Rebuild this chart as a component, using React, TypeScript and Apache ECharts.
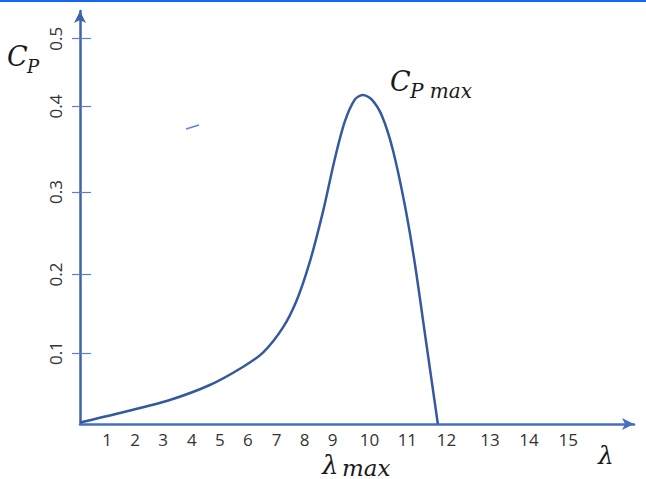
import React, { useEffect, useRef } from "react";
import * as echarts from "echarts";

// Tick labels and where they sit along each axis (axis units)
const xLabels = ["1", "2", "3", "4", "5", "6", "7", "8", "9", "10", "11", "12", "13", "14", "15"];
const xLabelPos = [0.97, 1.97, 2.97, 4.0, 5.0, 6.0, 7.03, 8.03, 9.03, 10.35, 11.7, 13.1, 14.65, 16.05, 17.45];
const yLabels = ["0.1", "0.2", "0.3", "0.4", "0.5"];
const yLabelPos = [0.092, 0.194, 0.301, 0.412, 0.5];

// Cp curve (axis units)
const lambdaVals = [0, 1.43, 3.21, 4.64, 5.82, 6.55, 7.25, 7.75, 8.21, 8.68, 9.1, 9.46, 9.82, 10.11, 10.43, 10.79, 11.18, 11.61, 11.96, 12.36, 12.79];
const cpVals = [0.002, 0.0143, 0.0312, 0.0506, 0.074, 0.093, 0.125, 0.161, 0.21, 0.275, 0.343, 0.392, 0.421, 0.427, 0.421, 0.4, 0.356, 0.284, 0.21, 0.109, 0];

const X_MAX = 19.8;
const Y_MAX = 0.536;

function nearestIndex(arr: number[], v: number) {
  let best = 0;
  let d = Infinity;
  arr.forEach((a, i) => {
    if (Math.abs(a - v) < d) {
      d = Math.abs(a - v);
      best = i;
    }
  });
  return best;
}

export default function App() {
  const ref = useRef<HTMLDivElement>(null);
  useEffect(() => {
    if (!ref.current) return;
    const chart = echarts.init(ref.current, null, { renderer: "svg" });
    const axisColor = "#3E63AD";
    const serif = "DejaVu Serif";
    chart.setOption({
      animation: false,
      backgroundColor: "#ffffff",
      grid: { left: 80, right: 12, top: 11, bottom: 55 },
      xAxis: {
        type: "value",
        min: 0,
        max: X_MAX,
        splitLine: { show: false },
        axisTick: { show: false },
        axisLine: {
          show: true,
          onZero: false,
          symbol: ["none", "arrow"],
          symbolSize: [9, 12],
          lineStyle: { color: "#4570BE", width: 2.5 },
        },
        axisLabel: {
          customValues: xLabelPos,
          margin: 7,
          fontFamily: "Open Sans",
          fontSize: 17,
          color: "#333333",
          formatter: (v: number) => xLabels[nearestIndex(xLabelPos, v)],
        },
      },
      yAxis: [
        {
          type: "value",
          min: 0,
          max: Y_MAX,
          splitLine: { show: false },
          axisLine: {
            show: true,
            onZero: false,
            symbol: ["none", "arrow"],
            symbolSize: [9, 12],
            lineStyle: { color: axisColor, width: 2.5 },
          },
          axisTick: {
            show: true,
            inside: true,
            length: 11,
            customValues: yLabelPos,
            lineStyle: { color: "#5B80C8", width: 1.2 },
          },
          axisLabel: {
            customValues: yLabelPos,
            rotate: 90,
            margin: 16,
            fontFamily: "Open Sans",
            fontSize: 17,
            color: "#333333",
            formatter: (v: number) => yLabels[nearestIndex(yLabelPos, v)],
          },
        },
        {
          type: "value",
          min: 0,
          max: Y_MAX,
          position: "left",
          splitLine: { show: false },
          axisLine: { show: false },
          axisLabel: { show: false },
          axisTick: {
            show: true,
            inside: false,
            length: 8,
            customValues: yLabelPos,
            lineStyle: { color: "#5B80C8", width: 1.2 },
          },
        },
      ],
      series: [
        {
          type: "line",
          data: lambdaVals.map((x, i) => [x, cpVals[i]]),
          smooth: 0.3,
          showSymbol: false,
          lineStyle: { color: "#34599E", width: 2.5 },
        },
      ],
      graphic: [
        { type: "rect", shape: { x: 0, y: 0, width: 646, height: 2 }, style: { fill: "#1368F0" } },
        { type: "line", shape: { x1: 186, y1: 129, x2: 199, y2: 125 }, style: { stroke: "#5C85D6", lineWidth: 1.5 } },
        { type: "text", x: 7, y: 43, style: { text: "C", font: `italic 27px '${serif}'`, fill: "#1a1a1a" } },
        { type: "text", x: 27, y: 57, style: { text: "P", font: `italic 18px '${serif}'`, fill: "#1a1a1a" } },
        { type: "text", x: 390, y: 68, style: { text: "C", font: `italic 27px '${serif}'`, fill: "#1a1a1a" } },
        { type: "text", x: 410, y: 81, style: { text: "P max", font: `italic 20px '${serif}'`, fill: "#1a1a1a" } },
        { type: "text", x: 322, y: 452, style: { text: "λ", font: `italic 26px '${serif}'`, fill: "#1a1a1a" } },
        { type: "text", x: 342, y: 456, style: { text: "max", font: `italic 23px '${serif}'`, fill: "#1a1a1a" } },
        { type: "text", x: 598, y: 443, style: { text: "λ", font: `italic 25px '${serif}'`, fill: "#1a1a1a" } },
      ],
    });
    return () => chart.dispose();
  }, []);
  return (
    <div
      ref={ref}
      style={{ position: "fixed", left: 0, top: 0, width: 646, height: 479, background: "#fff" }}
    />
  );
}
